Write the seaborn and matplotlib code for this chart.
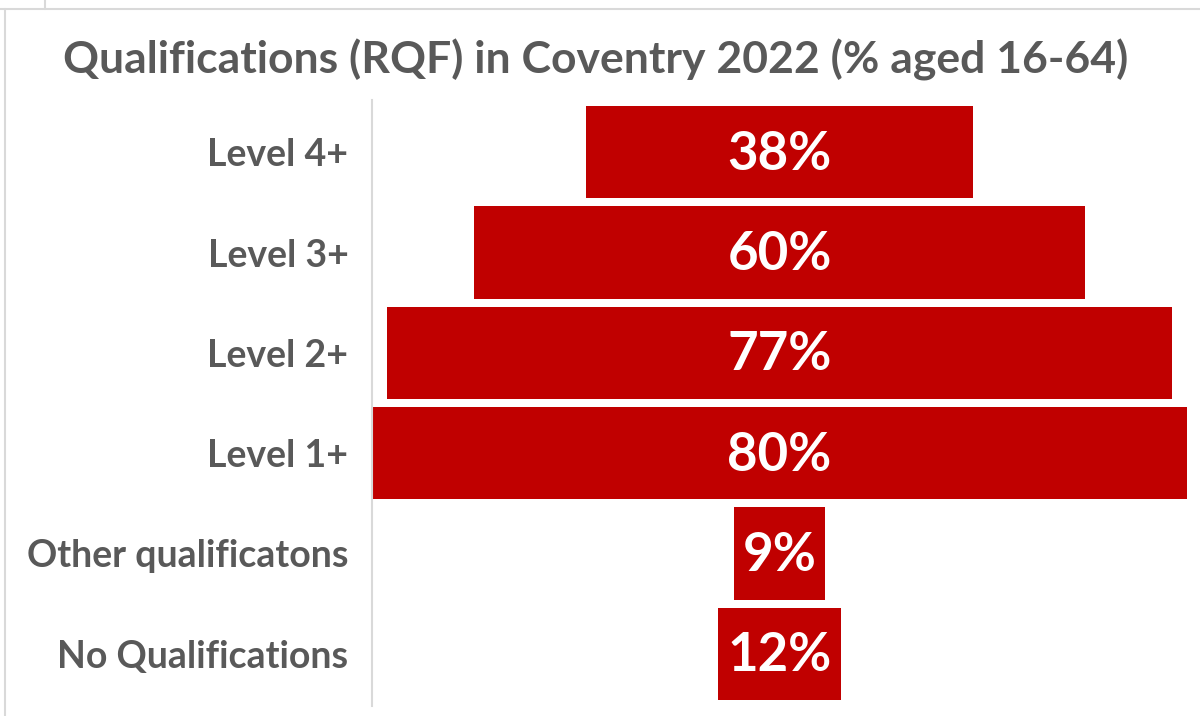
import numpy as np
import pandas as pd
import matplotlib
matplotlib.use("Agg")
import matplotlib.pyplot as plt
from matplotlib.lines import Line2D
import seaborn as sns

categories = ["Level 4+", "Level 3+", "Level 2+", "Level 1+",
              "Other qualificatons", "No Qualifications"]
values = [38, 60, 77, 80, 9, 12]
labels = ["38%", "60%", "77%", "80%", "9%", "12%"]

BAR_RED = "#C00000"
TEXT_GREY = "#595959"
FONT = ["Lato", "DejaVu Sans"]

sns.set_theme(style="white")
plt.rcParams["font.family"] = FONT

df = pd.DataFrame({"category": categories, "value": values})

fig = plt.figure(figsize=(12, 7.16), dpi=100)
ax = fig.add_axes([372 / 1200, 1 - 706 / 716, (1189 - 372) / 1200, (706 - 100) / 716])

sns.barplot(data=df, x="value", y="category", orient="h", color=BAR_RED,
            saturation=1, width=0.92, ax=ax)

# centre every bar on zero to build the funnel shape
for patch, v, lab in zip(ax.patches, values, labels):
    patch.set_x(-v / 2)
    patch.set_edgecolor("none")
    cy = patch.get_y() + patch.get_height() / 2
    ax.text(0, cy + 0.02, lab, ha="center", va="center", color="white",
            fontsize=38, fontweight="bold")

ax.set_xlim(-40, 40.2)
ax.set_ylim(5.52, -0.52)
ax.set_xlabel("")
ax.set_ylabel("")
ax.set_xticks([])
ax.tick_params(axis="y", length=0, pad=17)
for t in ax.get_yticklabels():
    t.set_fontsize(27)
    t.set_fontweight("bold")
    t.set_color(TEXT_GREY)
    t.set_y(t.get_position()[1])

for side in ["top", "right", "bottom"]:
    ax.spines[side].set_visible(False)
ax.spines["left"].set_color("#D9D9D9")
ax.spines["left"].set_linewidth(1.5)

fig.text(596 / 1200, 1 - 60 / 716, "Qualifications (RQF) in Coventry 2022 (% aged 16-64)",
         ha="center", va="center", fontsize=32, fontweight="bold", color=TEXT_GREY)

# outer frame lines
fig.add_artist(Line2D([0, 1], [1 - 9 / 716, 1 - 9 / 716], transform=fig.transFigure,
                      color="#D9D9D9", lw=1.5))
fig.add_artist(Line2D([5 / 1200, 5 / 1200], [0, 1 - 9 / 716], transform=fig.transFigure,
                      color="#D9D9D9", lw=1.5))
fig.add_artist(Line2D([45 / 1200, 45 / 1200], [1 - 9 / 716, 1], transform=fig.transFigure,
                      color="#D9D9D9", lw=1.5))

fig.savefig("out.png", dpi=100, facecolor="white")
